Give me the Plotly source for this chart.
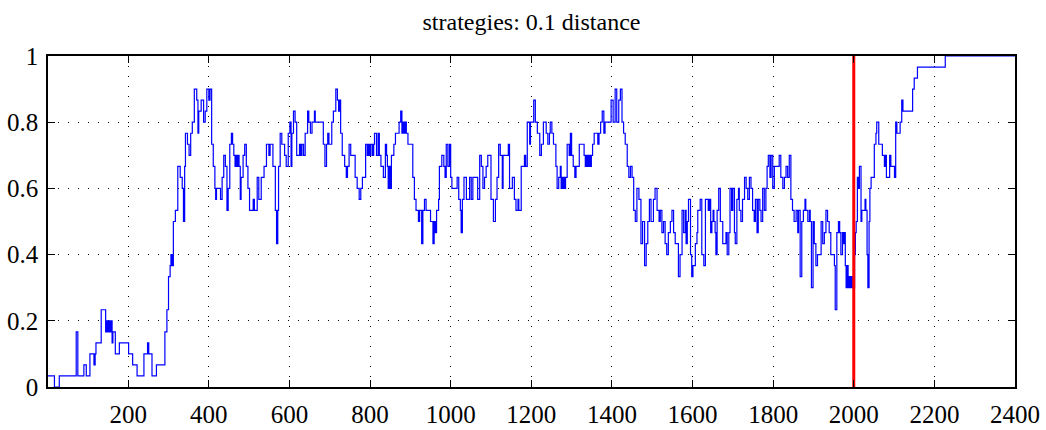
import plotly.graph_objects as go

# Number of agents (out of 30) holding the strategy, listed at each change point.
N_AGENTS = 30

step_t = [
    1, 17, 29, 71, 75, 90, 96, 105, 115, 118, 120, 133, 144, 147, 150, 152, 154, 157, 160, 162,
    168, 178, 201, 211, 222, 239, 248, 251, 259, 270, 291, 296, 300, 304, 306, 309, 312, 317, 323, 329,
    334, 337, 340, 342, 347, 351, 355, 359, 364, 370, 373, 375, 381, 387, 391, 395, 400, 403,
    407, 411, 415, 417, 419, 429, 433, 437, 441, 445, 448, 452, 456, 459, 462, 465, 467, 470, 472, 475,
    478, 480, 485, 489, 493, 497, 501, 510, 513, 520, 524, 530, 537, 543, 549, 552, 559, 565, 568, 571,
    573, 577, 581, 588, 592, 597, 601, 604, 606, 610, 614, 618, 625, 628, 631, 635, 639, 645, 648, 652,
    656, 662, 664, 684, 688, 692, 695, 698, 705, 709, 715, 719, 722, 724, 727, 731, 737, 741, 744, 748,
    752, 763, 768, 773, 777, 781, 786, 789, 793, 796, 799, 802, 806, 809,
    811, 816, 820, 823, 827, 833, 838, 841, 843, 845, 848, 850, 853, 859, 863, 872, 876, 879, 882, 885,
    887, 890, 894, 906, 910, 914, 920, 923, 928, 931, 935, 939, 950, 956, 959, 962, 965, 970, 972, 978,
    983, 986, 989, 993, 997, 1000, 1003, 1016, 1020, 1024, 1026, 1029, 1033, 1039, 1047, 1051, 1055, 1067,
    1072, 1076, 1080, 1084, 1088, 1092, 1100, 1106, 1111, 1115, 1119, 1123, 1128, 1130, 1143, 1146, 1153,
    1158, 1162, 1167, 1169, 1175, 1183, 1186, 1190,
    1196, 1198, 1206, 1210, 1215, 1221, 1225, 1230, 1237, 1241, 1245, 1247, 1251, 1255, 1261, 1264, 1268,
    1272, 1274, 1276, 1278, 1280, 1282, 1285, 1289, 1294, 1297, 1300, 1304, 1308, 1311, 1319, 1331, 1334,
    1337, 1340, 1343, 1346, 1349, 1352, 1356, 1365, 1368, 1372, 1376, 1380, 1383, 1398, 1403, 1408, 1412,
    1417, 1421, 1425, 1429, 1433, 1438, 1442, 1446, 1450, 1454, 1458, 1462, 1467, 1472, 1476, 1481, 1485,
    1489, 1493, 1497, 1503, 1507, 1512, 1517, 1520, 1524, 1528, 1532, 1536, 1540, 1545, 1549, 1553, 1557,
    1565, 1569, 1574, 1578, 1582, 1584, 1587, 1590,
    1595, 1598, 1601, 1607, 1611, 1613, 1619, 1623, 1628, 1632, 1639, 1642, 1645, 1648, 1651, 1653, 1656,
    1658, 1661, 1665, 1669, 1675, 1683, 1686, 1690, 1693, 1697, 1700, 1704, 1706, 1710, 1714, 1716, 1720,
    1724, 1729, 1733, 1737, 1741, 1745, 1749, 1753, 1756, 1760, 1763, 1767, 1770, 1774, 1778, 1782, 1785,
    1788, 1792, 1795, 1799, 1803, 1815, 1819, 1824, 1828, 1832, 1836, 1840, 1844, 1848, 1852, 1857, 1861,
    1863, 1867, 1871, 1875, 1879, 1881, 1886, 1890, 1892, 1895, 1899, 1902, 1906, 1910, 1919, 1923, 1927,
    1931, 1935, 1939, 1943, 1952, 1954, 1958, 1962, 1965, 1968, 1972, 1975,
    1977, 1979, 1981, 1983, 1986, 1989, 1992, 1995, 1998, 2002, 2004, 2006, 2009, 2012, 2014, 2018, 2020,
    2028, 2030, 2033, 2035, 2038, 2040, 2043, 2051, 2055, 2057, 2062, 2071, 2076, 2078, 2081, 2089, 2092,
    2101, 2104, 2107, 2115, 2119, 2122, 2146, 2150, 2158, 2227, 2400,
]

step_count = [
    1, 0, 1, 5, 1, 2, 1, 3, 2, 3, 4, 7, 5, 6, 5, 6, 5, 6, 4, 5,
    3, 4, 3, 2, 1, 3, 4, 3, 1, 2, 5, 7, 10, 11, 12, 11, 15, 16, 20, 19,
    18, 15, 20, 23, 22, 21, 23, 24, 27, 26, 23, 25, 26, 24, 25, 27, 26, 27,
    22, 20, 18, 17, 18, 17, 19, 21, 20, 16, 18, 22, 23, 22, 21, 20, 21, 20, 21, 20,
    17, 19, 21, 22, 20, 18, 16, 17, 16, 19, 17, 19, 20, 22, 21, 22, 20, 16, 13, 16,
    20, 23, 22, 21, 20, 23, 24, 20, 23, 25, 24, 21, 22, 21, 22, 21, 23, 25, 24, 23,
    24, 25, 24, 22, 20, 22, 23, 22, 24, 25, 27, 26, 25, 26, 23, 21, 20, 19, 20, 22,
    21, 19, 18, 17, 18, 19, 19, 22, 21, 22, 21, 22, 21, 22,
    23, 21, 23, 21, 20, 19, 22, 21, 20, 18, 20, 18, 21, 22, 23, 24, 25, 23, 24, 23,
    24, 23, 22, 19, 17, 16, 15, 16, 13, 16, 17, 16, 15, 13, 15, 14, 16, 17, 20, 21,
    20, 19, 22, 20, 22, 19, 18, 19, 17, 16, 14, 17, 19, 17, 19, 17, 19, 17,
    21, 20, 18, 19, 20, 21, 17, 15, 17, 19, 22, 21, 18, 21, 22, 18, 19,
    17, 16, 17, 16, 20, 21, 20, 24,
    22, 24, 26, 24, 23, 21, 22, 24, 23, 22, 23, 24, 23, 22, 20, 18, 19,
    20, 18, 19, 18, 19, 18, 19, 22, 21, 23, 21, 20, 19, 20, 22, 21, 20,
    21, 20, 21, 20, 21, 22, 23, 22, 23, 24, 25, 23, 24, 26, 24, 27, 24,
    26, 27, 24, 23, 22, 20, 19, 20, 19, 16, 15, 18, 17, 13, 15, 11, 13,
    15, 17, 15, 17, 18, 16, 15, 16, 14, 15, 13, 12, 14, 15, 16, 14, 13,
    10, 12, 16, 14, 16, 13, 15, 17,
    12, 10, 11, 13, 14, 16, 17, 12, 11, 17, 16, 17, 14, 15, 16, 15, 14,
    12, 16, 18, 15, 13, 14, 12, 14, 18, 16, 18, 14, 13, 17, 18, 16, 15,
    17, 19, 18, 17, 19, 18, 16, 15, 17, 14, 17, 16, 15, 18, 16, 18, 20,
    21, 19, 21, 18, 20, 21, 19, 18, 19, 20, 19, 21, 17, 16, 15, 16, 14,
    16, 10, 15, 16, 17, 16, 15, 16, 15, 9, 15, 13, 11, 12, 15, 13, 14,
    16, 15, 14, 12, 11, 7, 14, 15, 14, 12, 14, 13,
    14, 11, 9, 11, 9, 10, 9, 10, 9, 12, 14, 15, 19, 18, 20, 15, 16,
    17, 16, 12, 9, 15, 18, 19, 22, 23, 24, 22, 21, 20, 21, 19, 21, 20,
    19, 24, 23, 24, 26, 25, 27, 28, 29, 30, 30,
]

switch_time = 2000

x_ticks = list(range(200, 2401, 200))
y_ticks = [0, 0.2, 0.4, 0.6, 0.8, 1]
y_labels = ["0", "0.2", "0.4", "0.6", "0.8", "1"]

share = [c / N_AGENTS for c in step_count]

fig = go.Figure()
fig.add_trace(go.Scatter(
    x=step_t, y=share, mode="lines",
    line=dict(color="#0000ff", width=1.2, shape="hv"),
    hoverinfo="x+y",
))
fig.add_trace(go.Scatter(
    x=[switch_time, switch_time], y=[0, 1], mode="lines",
    line=dict(color="#ff0000", width=3),
    hoverinfo="x",
))

axis_common = dict(
    showline=True, linecolor="black", linewidth=1.5, mirror="ticks",
    ticks="inside", ticklen=7, tickwidth=1, tickcolor="black",
    showgrid=True, gridcolor="black", gridwidth=1, griddash="1px,9px",
    zeroline=False, automargin=False, tickfont=dict(size=25, color="black"),
)

fig.update_layout(
    width=1046, height=430,
    margin=dict(l=48, r=31, t=56, b=43),
    paper_bgcolor="white", plot_bgcolor="white",
    showlegend=False,
    font=dict(family="Liberation Serif", size=24, color="black"),
    title=dict(
        text="strategies: 0.1 distance",
        x=0.5, xref="paper", xanchor="center",
        y=1 - 22 / 430, yref="container", yanchor="middle",
        font=dict(size=24, color="black"),
    ),
    xaxis=dict(range=[1, 2400], tickmode="array", tickvals=x_ticks,
               ticklabelstandoff=4, **axis_common),
    yaxis=dict(range=[0, 1], tickmode="array", tickvals=y_ticks, ticktext=y_labels,
               ticklabelstandoff=3, **axis_common),
)

fig.write_html("out.html")
